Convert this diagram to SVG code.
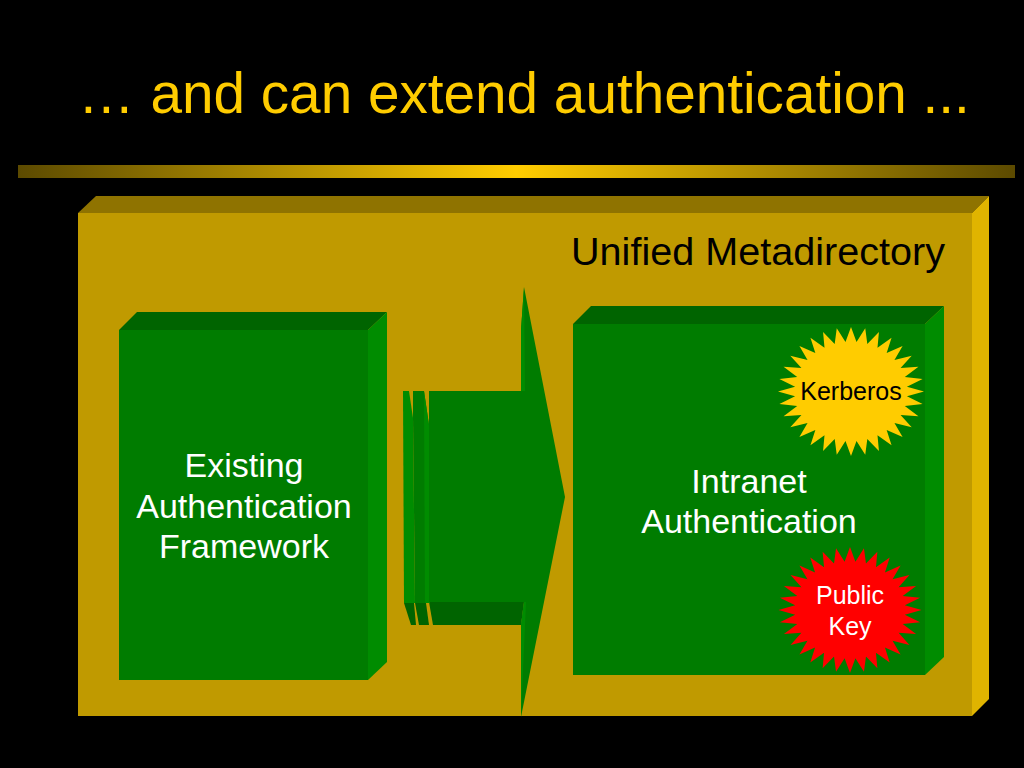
<svg xmlns="http://www.w3.org/2000/svg" width="1024" height="768" viewBox="0 0 1024 768">
<style>
text{font-family:"Liberation Sans",Arial,sans-serif;text-anchor:middle}
.title{font-size:56.7px;fill:#ffcc00;text-anchor:start}
.h{font-size:39.6px;fill:#000;text-anchor:start}
.lab{font-size:34px;fill:#fff}
.small{font-size:25px}
.front{fill:#007c00}.top{fill:#006400}.side{fill:#008c00}
</style>
<defs>
<linearGradient id="bar" x1="0" y1="0" x2="1" y2="0">
<stop offset="0" stop-color="#5c4a00"/><stop offset="0.5" stop-color="#ffcc00"/><stop offset="1" stop-color="#5c4a00"/>
</linearGradient>
<polygon id="star" points="100,0 76.63,7.55 98.08,19.51 73.68,22.35 92.39,38.27 67.91,36.3 83.15,55.56 59.52,48.85 70.71,70.71 48.85,59.52 55.56,83.15 36.3,67.91 38.27,92.39 22.35,73.68 19.51,98.08 7.55,76.63 0,100 -7.55,76.63 -19.51,98.08 -22.35,73.68 -38.27,92.39 -36.3,67.91 -55.56,83.15 -48.85,59.52 -70.71,70.71 -59.52,48.85 -83.15,55.56 -67.91,36.3 -92.39,38.27 -73.68,22.35 -98.08,19.51 -76.63,7.55 -100,0 -76.63,-7.55 -98.08,-19.51 -73.68,-22.35 -92.39,-38.27 -67.91,-36.3 -83.15,-55.56 -59.52,-48.85 -70.71,-70.71 -48.85,-59.52 -55.56,-83.15 -36.3,-67.91 -38.27,-92.39 -22.35,-73.68 -19.51,-98.08 -7.55,-76.63 0,-100 7.55,-76.63 19.51,-98.08 22.35,-73.68 38.27,-92.39 36.3,-67.91 55.56,-83.15 48.85,-59.52 70.71,-70.71 59.52,-48.85 83.15,-55.56 67.91,-36.3 92.39,-38.27 73.68,-22.35 98.08,-19.51 76.63,-7.55"/>
</defs>
<rect width="1024" height="768" fill="#000"/>
<text class="title" x="78" y="113">… and can extend authentication ...</text>
<rect x="18" y="165" width="997" height="13" fill="url(#bar)"/>
<g id="metadirectory">
<polygon points="78,213 96,196 989,196 972,213" fill="#8f7300"/>
<polygon points="972,213 989,196 989,699 972,716" fill="#e0b400"/>
<rect x="78" y="213" width="894" height="503" fill="#c09a00"/>
<text class="h" x="571" y="265">Unified Metadirectory</text>
</g>
<g id="existing">
<polygon class="top" points="119,330 137,312 387,312 368,330"/>
<polygon class="side" points="368,330 387,312 387,662 368,680"/>
<rect class="front" x="119" y="330" width="249" height="350"/>
<text class="lab" x="244" y="477">Existing</text>
<text class="lab" x="244" y="518">Authentication</text>
<text class="lab" x="244" y="558">Framework</text>
</g>
<g id="connectors">
<polygon class="top" points="404,603 414,603 416,625 411,625"/>
<polygon class="top" points="415,603 426,603 429,625 419,625"/>
<polygon class="top" points="429,602 524,602 521,625 433,625"/>
<polygon class="side" points="403,391 409,391 413,418 415,603 404,603"/>
<polygon class="front" points="413,391 424,391 429,425 430,603 415,603 413,418"/>
<polygon class="side" points="424,391 429,425 430,603 425,603"/>
<polygon class="front" points="429,391 521,391 521,330 524,287 565,497 521,717 521,625 524,602 429,602"/>
<polygon class="side" points="521,391 521,330 524,287 525,391"/>
<polygon class="side" points="521,625 524,602 526,602 521,717"/>
</g>
<g id="intranet">
<polygon class="top" points="573,324 591,306 944,306 925,324"/>
<polygon class="side" points="925,324 944,306 944,657 925,675"/>
<rect class="front" x="573" y="324" width="352" height="351"/>
<text class="lab" x="749" y="493">Intranet</text>
<text class="lab" x="749" y="533">Authentication</text>
</g>
<g id="kerberos">
<use href="#star" transform="translate(851 391.5) scale(.73 .645)" fill="#ffcc00"/>
<text class="small" x="851" y="400" fill="#000">Kerberos</text>
</g>
<g id="publickey">
<use href="#star" transform="translate(850 610) scale(.715 .63)" fill="#ff0000"/>
<text class="small" x="850" y="604" fill="#fff">Public</text>
<text class="small" x="850" y="635" fill="#fff">Key</text>
</g>
</svg>
